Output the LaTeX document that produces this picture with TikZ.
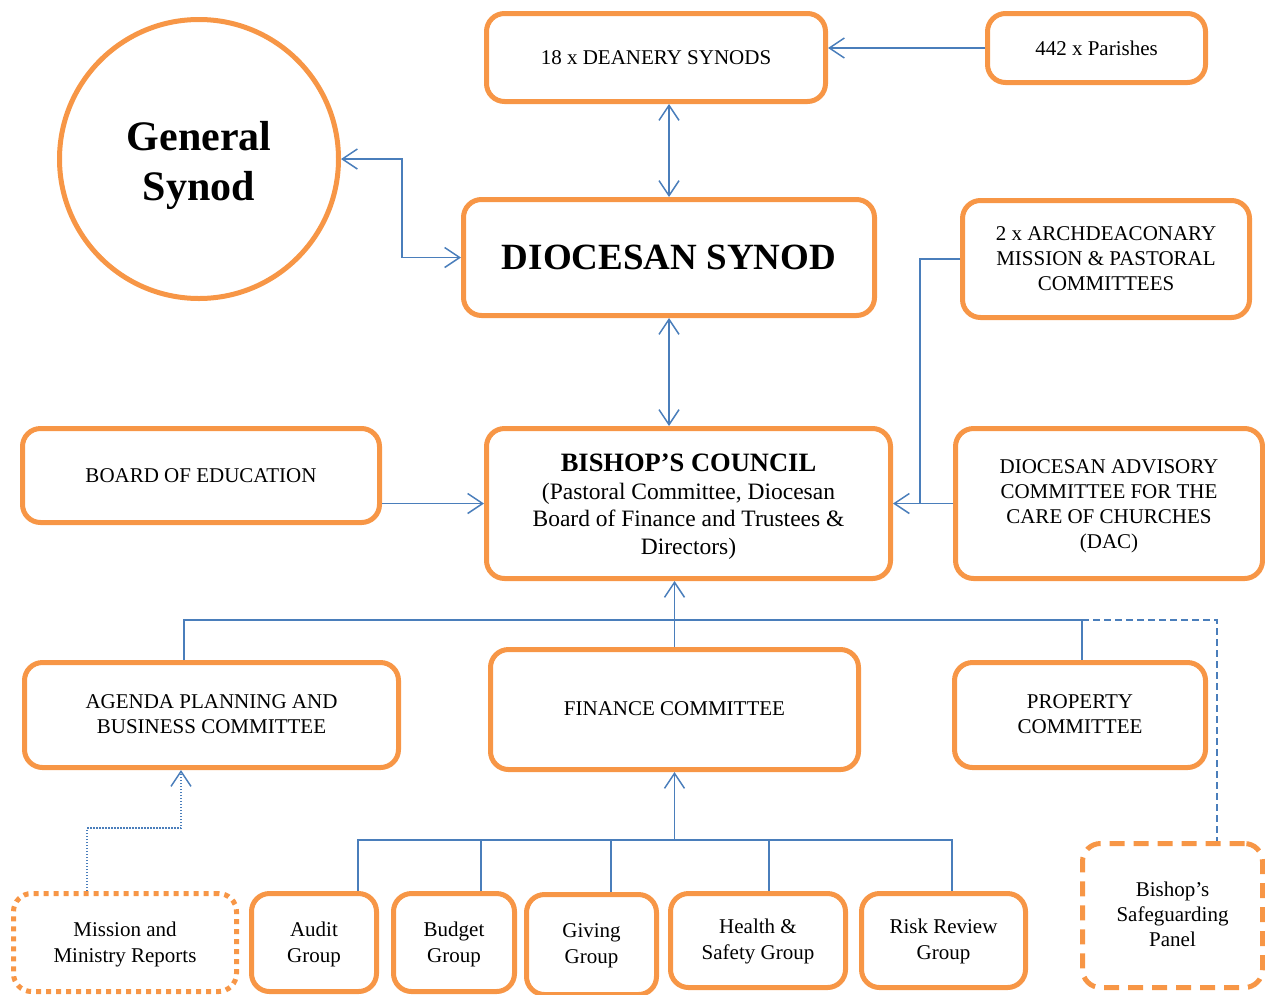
\documentclass[tikz,border=0pt]{standalone}
\usepackage{fontspec}
\setmainfont{Liberation Serif}
\usetikzlibrary{arrows.meta,calc}
\definecolor{borange}{HTML}{F79646}
\definecolor{lblue}{HTML}{4A7EBB}
\newcommand\lowtext[2]{\raisebox{-#1}[\height][\depth]{\begin{tabular}{@{}c@{}}#2\end{tabular}}}
\begin{document}
\begin{tikzpicture}[x=1pt,y=-1pt,
  box/.style={draw=borange, line width=5pt, rounded corners=18pt, align=center,
    inner sep=0pt, font=\fontsize{21}{25}\selectfont},
  smallbox/.style={box, font=\fontsize{21}{25.5}\selectfont},
  dotbox/.style={smallbox, dash pattern=on 5pt off 5pt},
  dashbox/.style={box, dash pattern=on 15pt off 9pt},
  conn/.style={draw=lblue, line width=1.5pt},
  arr/.style={conn, -{Straight Barb[length=15pt,width=20pt,line width=1.5pt]}},
  darr/.style={conn, {Straight Barb[length=15pt,width=20pt,line width=1.5pt]}-{Straight Barb[length=15pt,width=20pt,line width=1.5pt]}},
]
\useasboundingbox (0,0) rectangle (1265,994);

% top
\node[box, minimum width=339pt, minimum height=88pt] (dean) at (656,57.5) {18 x DEANERY SYNODS};
\node[box, minimum width=218pt, minimum height=69pt] (par) at (1096.5,48) {442 x Parishes};
\node[circle, draw=borange, line width=5pt, minimum size=279pt, align=center, inner sep=0pt,
  font=\fontsize{42}{50}\selectfont\bfseries] (gs) at (199,159) {\lowtext{6pt}{General\\Synod}};
\node[box, minimum width=411pt, minimum height=116pt, font=\fontsize{37}{40}\selectfont\bfseries] (ds) at (669,257.5) {DIOCESAN SYNOD};
\node[box, minimum width=287pt, minimum height=117pt] (arch) at (1106,259) {\lowtext{1pt}{2 x ARCHDEACONARY\\MISSION \& PASTORAL\\COMMITTEES}};

% middle
\node[box, minimum width=357pt, minimum height=94pt] (boe) at (201,475.5) {BOARD OF EDUCATION};
\node[box, minimum width=404pt, minimum height=150pt, font=\fontsize{23.5}{27.5}\selectfont] (bc) at (688.5,503.5)
  {\lowtext{4pt}{{\fontsize{26.5}{28}\selectfont\bfseries BISHOP’S COUNCIL}\\(Pastoral Committee, Diocesan\\Board of Finance and Trustees \&\\Directors)}};
\node[box, minimum width=307pt, minimum height=150pt] (dac) at (1109,503.5) {\lowtext{2pt}{DIOCESAN ADVISORY\\COMMITTEE FOR THE\\CARE OF CHURCHES\\(DAC)}};

% committees
\node[box, minimum width=374pt, minimum height=105pt] (agenda) at (211.5,715) {\lowtext{1pt}{AGENDA PLANNING AND\\BUSINESS COMMITTEE}};
\node[box, minimum width=368pt, minimum height=120pt] (fin) at (674.5,709.5) {\lowtext{1pt}{FINANCE COMMITTEE}};
\node[box, minimum width=251pt, minimum height=105pt] (prop) at (1080,715) {\lowtext{1pt}{PROPERTY\\COMMITTEE}};

% bottom
\node[dotbox, minimum width=223pt, minimum height=98pt] (mis) at (125,942.5) {\lowtext{2pt}{Mission and\\Ministry Reports}};
\node[smallbox, minimum width=125pt, minimum height=98pt] (audit) at (314,942.5) {\lowtext{2pt}{Audit\\Group}};
\node[smallbox, minimum width=121pt, minimum height=98pt] (budget) at (454,942.5) {\lowtext{2pt}{Budget\\Group}};
\node[smallbox, minimum width=130pt, minimum height=100pt] (giving) at (591.5,944.5) {\lowtext{1pt}{Giving\\Group}};
\node[smallbox, minimum width=175pt, minimum height=94pt] (health) at (758,940.5) {\lowtext{1pt}{Health \&\\Safety Group}};
\node[smallbox, minimum width=164pt, minimum height=94pt] (risk) at (943.5,940.5) {\lowtext{1pt}{Risk Review\\Group}};
\node[dashbox, minimum width=180pt, minimum height=144pt] (safe) at (1172.5,915.5) {\lowtext{1pt}{Bishop’s\\Safeguarding\\Panel}};

% connectors
\draw[arr] (par.west) -- (par.west -| dean.east);
\draw[darr] (dean.south -| ds.north) -- (ds.north);
\draw[darr] (gs.east) -- ++(61,0) |- (ds.west);
\draw[darr] (ds.south) -- (ds.south |- bc.north);
\draw[arr] (boe.east |- bc.west) -- (bc.west);
\draw[arr] (dac.west) -- (bc.east);
\draw[conn] (arch.west) -| ([xshift=27pt]bc.east);

\coordinate (hub1) at (fin.north |- 0,620);
\draw[arr] (fin.north) -- (fin.north |- bc.south);
\draw[conn] ([xshift=-27.5pt]agenda.north) |- (hub1) -| ([xshift=2pt]prop.north);
\draw[conn, dash pattern=on 7pt off 4pt] ([xshift=2pt]prop.north |- hub1) -| ([xshift=44.5pt]safe.north);

\coordinate (hub2) at (fin.south |- 0,840);
\draw[arr] (hub2) -- (fin.south);
\draw[conn] ([xshift=44pt]audit.north) |- ([xshift=8.5pt]risk.north |- hub2) -- ([xshift=8.5pt]risk.north);
\draw[conn] ([xshift=27pt]budget.north) -- ([xshift=27pt]budget.north |- hub2);
\draw[conn] ([xshift=19.5pt]giving.north) -- ([xshift=19.5pt]giving.north |- hub2);
\draw[conn] ([xshift=11pt]health.north) -- ([xshift=11pt]health.north |- hub2);

\draw[arr, dash pattern=on 1.5pt off 1.5pt] ([xshift=-38pt]mis.north) -- ++(0,-63) -| ([xshift=-30.5pt]agenda.south);
\end{tikzpicture}
\end{document}
